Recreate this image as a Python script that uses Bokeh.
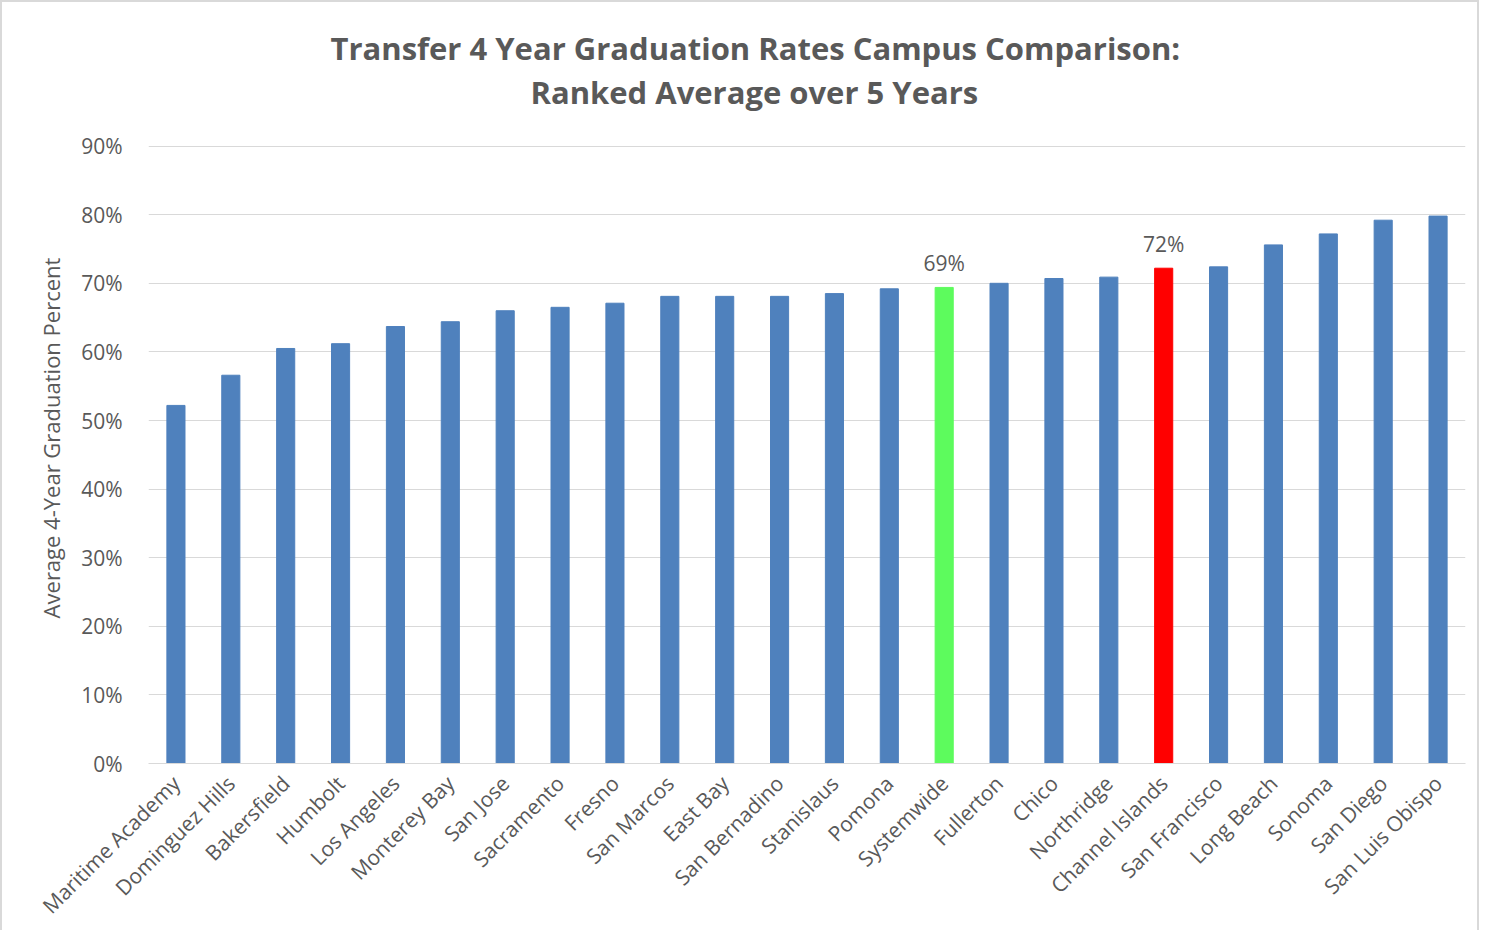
import math
from bokeh.plotting import figure
from bokeh.models import (FactorRange, Range1d, FixedTicker, PrintfTickFormatter,
                          Title, ColumnDataSource)
from bokeh.embed import file_html
from bokeh.resources import INLINE

# ---- data ----
campuses = ["Maritime Academy", "Dominguez Hills", "Bakersfield", "Humbolt",
            "Los Angeles", "Monterey Bay", "San Jose", "Sacramento", "Fresno",
            "San Marcos", "East Bay", "San Bernadino", "Stanislaus", "Pomona",
            "Systemwide", "Fullerton", "Chico", "Northridge", "Channel Islands",
            "San Francisco", "Long Beach", "Sonoma", "San Diego", "San Luis Obispo"]
rates = [52.2, 56.6, 60.5, 61.2, 63.7, 64.4, 66.0, 66.5, 67.1, 68.1, 68.1, 68.1,
         68.5, 69.2, 69.4, 70.0, 70.7, 70.9, 72.2, 72.4, 75.6, 77.2, 79.2, 79.8]
labelled = ["Systemwide", "Channel Islands"]
y_ticks = [0, 10, 20, 30, 40, 50, 60, 70, 80, 90]

title_line1 = "Transfer 4 Year Graduation Rates Campus Comparison:"
title_line2 = "Ranked Average over 5 Years"
y_label = "Average 4-Year Graduation Percent"

# ---- styling ----
BLUE = "#4f81bd"
GREEN = "#5dfb5d"
RED = "#ff0000"
TXT = "#595959"
FONT = "Open Sans"

colors = []
for c in campuses:
    if c == "Systemwide":
        colors.append(GREEN)
    elif c == "Channel Islands":
        colors.append(RED)
    else:
        colors.append(BLUE)

src = ColumnDataSource(dict(x=campuses, y=rates, color=colors))
lab = ColumnDataSource(dict(
    x=[c for c in campuses if c in labelled],
    y=[r for c, r in zip(campuses, rates) if c in labelled],
    t=["%d%%" % round(r) for c, r in zip(campuses, rates) if c in labelled],
))

# y range extends a little above the top gridline to leave the gap under the title
p = figure(width=1479, height=930, output_backend="svg", toolbar_location=None,
           x_range=FactorRange(*campuses, range_padding=0),
           y_range=Range1d(0, 94.9),
           min_border_left=146, min_border_right=16,
           min_border_top=110, min_border_bottom=165,
           title=None)
p.styles = {"border-left": "2px solid #d9d9d9", "border-top": "2px solid #d9d9d9",
            "border-right": "2px solid #d9d9d9"}

p.vbar(x="x", top="y", width=0.33, color="color", source=src)
p.text(x="x", y="y", text="t", source=lab, text_align="center",
       text_baseline="bottom", y_offset=-10, text_color=TXT,
       text_font_size="21px", text_font={"value": FONT})

t2 = Title(text=title_line2, align="left", offset=382, text_font=FONT,
           text_font_size="31px", text_font_style="bold", text_color=TXT,
           standoff=0)
t1 = Title(text=title_line1, align="left", offset=182, text_font=FONT,
           text_font_size="31px", text_font_style="bold", text_color=TXT,
           standoff=0)
p.add_layout(t2, "above")
p.add_layout(t1, "above")

p.outline_line_color = None
p.xgrid.grid_line_color = None
p.ygrid.grid_line_color = "#d9d9d9"
p.ygrid.grid_line_width = 1

p.yaxis.ticker = FixedTicker(ticks=y_ticks)
p.yaxis.formatter = PrintfTickFormatter(format="%d%%")
p.yaxis.axis_line_color = None
p.yaxis.major_tick_line_color = None
p.yaxis.minor_tick_line_color = None
p.yaxis.major_label_text_font = FONT
p.yaxis.major_label_text_font_size = "21px"
p.yaxis.major_label_text_color = TXT
p.yaxis.major_label_standoff = 20
p.yaxis.axis_label = y_label
p.yaxis.axis_label_text_font = FONT
p.yaxis.axis_label_text_font_size = "22px"
p.yaxis.axis_label_text_font_style = "normal"
p.yaxis.axis_label_text_color = TXT
p.yaxis.axis_label_standoff = 12

p.xaxis.axis_line_color = "#d9d9d9"
p.xaxis.major_tick_line_color = None
p.xaxis.minor_tick_line_color = None
p.xaxis.major_label_orientation = math.pi / 4
p.xaxis.major_label_text_font = FONT
p.xaxis.major_label_text_font_size = "21px"
p.xaxis.major_label_text_color = TXT
p.xaxis.major_label_standoff = 10

open("out.html", "w").write(file_html(p, INLINE))
